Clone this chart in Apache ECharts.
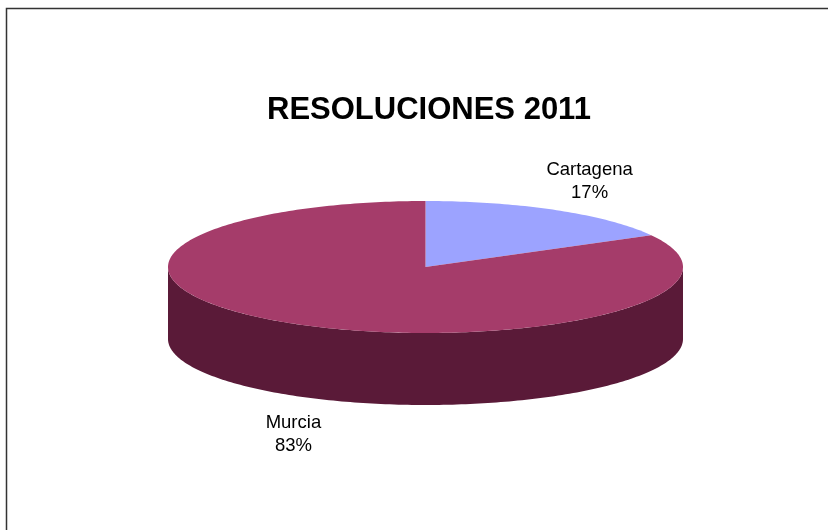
<!DOCTYPE html>
<html>
<head>
<meta charset="utf-8">
<script src="https://cdn.jsdelivr.net/npm/echarts@6/dist/echarts.min.js"></script>
<style>
  html, body { margin: 0; padding: 0; background: #fff; }
  #main { width: 828px; height: 530px; }
</style>
</head>
<body>
<div id="main"></div>
<script>
const categories = ['Cartagena', 'Murcia']
const values = [17, 83]
const topColors = ['#9ca3ff', '#a53c6a']
const sideColors = ['#5e6299', '#5a1a38']

// layout of the tilted pie
const cx = 425.5
const cy = 267
const rx = 257.5
const ry = 66
const depth = 72
const labelShift = [[33, -29], [-1, 39]]

const total = values.reduce((a, b) => a + b, 0)
const starts = []
let acc = 0
for (const v of values) {
  starts.push((acc / total) * 360)
  acc += v
}

function pt(deg, dy) {
  const r = (deg * Math.PI) / 180
  return [cx + rx * Math.sin(r), cy - ry * Math.cos(r) + (dy || 0)]
}

function arc(a0, a1, dy) {
  const pts = []
  const n = Math.max(2, Math.ceil(a1 - a0))
  for (let k = 0; k <= n; k++) pts.push(pt(a0 + ((a1 - a0) * k) / n, dy))
  return pts
}

function sideItem(params) {
  const i = params.dataIndex
  const a0 = starts[i]
  const a1 = a0 + (values[i] / total) * 360
  const s = Math.max(a0, 90)
  const e = Math.min(a1, 270)
  if (s >= e) return null
  const points = arc(s, e, 0).concat(arc(s, e, depth).reverse())
  return { type: 'polygon', shape: { points }, style: { fill: sideColors[i] } }
}

function topItem(params) {
  const i = params.dataIndex
  const a0 = starts[i]
  const a1 = a0 + (values[i] / total) * 360
  const mid = (a0 + a1) / 2
  const front = Math.cos((mid * Math.PI) / 180) < 0
  const edge = pt(mid, front ? depth : 0)
  const pct = Math.round((values[i] / total) * 100)
  return {
    type: 'group',
    children: [
      { type: 'polygon', shape: { points: [[cx, cy]].concat(arc(a0, a1, 0)) }, style: { fill: topColors[i] } },
      {
        type: 'text',
        x: edge[0] + labelShift[i][0],
        y: edge[1] + labelShift[i][1],
        style: {
          text: categories[i] + '\n' + pct + '%',
          fill: '#000',
          font: '18.5px "Liberation Sans", Arial, sans-serif',
          align: 'center',
          verticalAlign: 'middle',
          lineHeight: 23,
        },
      },
    ],
  }
}

const data = values.map((v, i) => ({ name: categories[i], value: v }))

const chart = echarts.init(document.getElementById('main'))
chart.setOption({
  animation: false,
  title: {
    text: 'RESOLUCIONES 2011',
    left: 262,
    top: 90,
    textStyle: { fontSize: 31, fontWeight: 'bold', color: '#000', fontFamily: '"Liberation Sans", Arial, sans-serif' },
  },
  graphic: [
    { type: 'rect', shape: { x: 6.5, y: 8.5, width: 900, height: 600 }, style: { fill: 'none', stroke: '#333', lineWidth: 1.5 } },
  ],
  series: [
    { type: 'custom', coordinateSystem: 'none', renderItem: sideItem, data, z: 1 },
    { type: 'custom', coordinateSystem: 'none', renderItem: topItem, data, z: 2 },
  ],
})
</script>
</body>
</html>
